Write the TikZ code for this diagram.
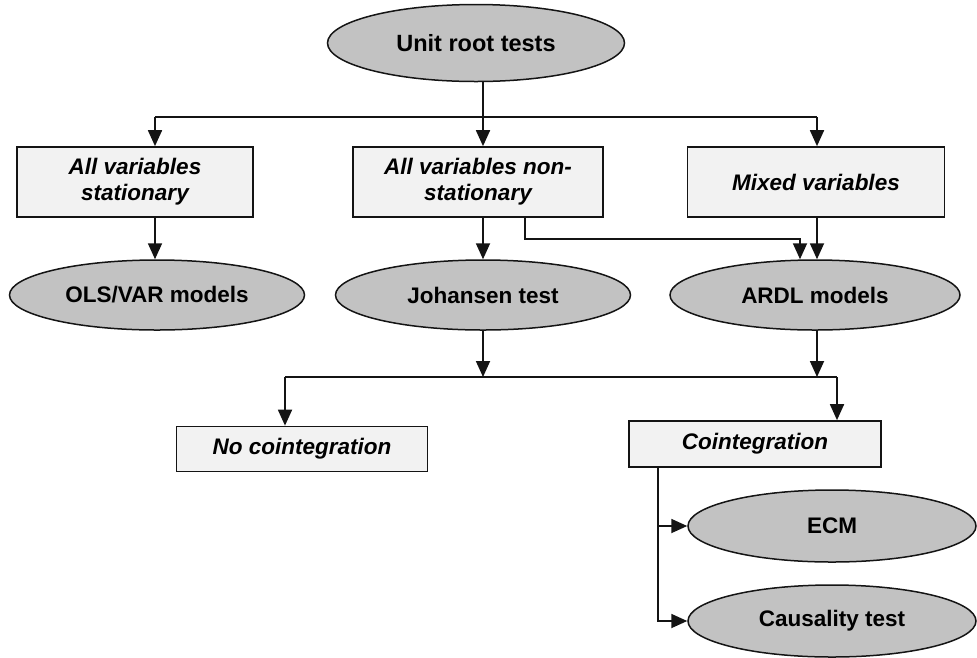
\documentclass[tikz,border=0pt]{standalone}
\usepackage{fontspec}
\setmainfont{Liberation Sans}
\usetikzlibrary{arrows.meta,shapes.geometric}
\definecolor{ovalfill}{RGB}{194,194,194}
\definecolor{boxfill}{RGB}{242,242,242}
\definecolor{edge}{RGB}{20,20,20}
\begin{document}
\begin{tikzpicture}[x=1pt,y=-1pt,
box/.style={draw=edge,fill=boxfill,line width=1.7pt,align=center,inner sep=0pt,font=\fontsize{22.5}{26}\selectfont\bfseries\itshape,minimum height=70pt},
oval/.style={ellipse,draw=edge,fill=ovalfill,line width=1.5pt,inner sep=0pt,font=\fontsize{22.5}{26}\selectfont\bfseries,minimum height=70pt},
arr/.style={-{Triangle[length=16pt,width=14pt]},line width=1.8pt,draw=edge},
ln/.style={line width=1.8pt,draw=edge}]
\useasboundingbox (0,0) rectangle (977,657);
\node[oval,minimum width=297pt,minimum height=77pt,font=\fontsize{23.5}{26}\selectfont\bfseries] (unit) at (476,43) {Unit root tests};
\node[box,minimum width=236pt] (stat) at (135,182) {All variables\\stationary};
\node[box,minimum width=250pt] (nonstat) at (478,182) {All variables non-\\stationary};
\node[box,minimum width=257pt] (mixed) at (816,182) {Mixed variables};
\node[oval,minimum width=295pt] (ols) at (157,295) {OLS/VAR models};
\node[oval,minimum width=295pt] (joh) at (483,295) {Johansen test};
\node[oval,minimum width=290pt] (ardl) at (815,295) {ARDL models};
\node[box,minimum width=251pt,minimum height=45pt] (nocoint) at (302,449) {No cointegration};
\node[box,minimum width=252pt,minimum height=46pt] (coint) at (755,444) {Cointegration};
\node[oval,minimum width=288pt,minimum height=72pt] (ecm) at (832,526) {ECM};
\node[oval,minimum width=288pt,minimum height=72pt] (caus) at (832,621) {Causality test};
\coordinate (top) at (483,117);
\coordinate (topl) at (155,117);
\coordinate (topr) at (817,117);
\coordinate (low) at (483,377);
\coordinate (lowl) at (285,377);
\coordinate (lowr) at (837,377);
\draw[ln] (topl) -- (topr);
\draw[arr] (top |- unit.south) -- (top |- nonstat.north);
\draw[arr] (topl) -- (topl |- stat.north);
\draw[arr] (topr) -- (topr |- mixed.north);
\draw[arr] (topl |- stat.south) -- (topl |- ols.north);
\draw[arr] (top |- nonstat.south) -- (top |- joh.north);
\draw[arr] (topr |- mixed.south) -- (topr |- ardl.north);
\draw[arr] ([xshift=47pt]nonstat.south) -- ++(0,21) -| ([xshift=-15pt]ardl.north);
\draw[arr] (joh.south) -- (low);
\draw[arr] (topr |- ardl.south) -- (topr |- low);
\draw[ln] (lowl) -- (lowr);
\draw[arr] (lowl) -- (lowl |- nocoint.north);
\draw[arr] (lowr) -- (lowr |- coint.north);
\draw[arr] ([xshift=30pt]coint.south west) |- (ecm.west);
\draw[arr] ([xshift=30pt]coint.south west) |- (caus.west);
\end{tikzpicture}
\end{document}
